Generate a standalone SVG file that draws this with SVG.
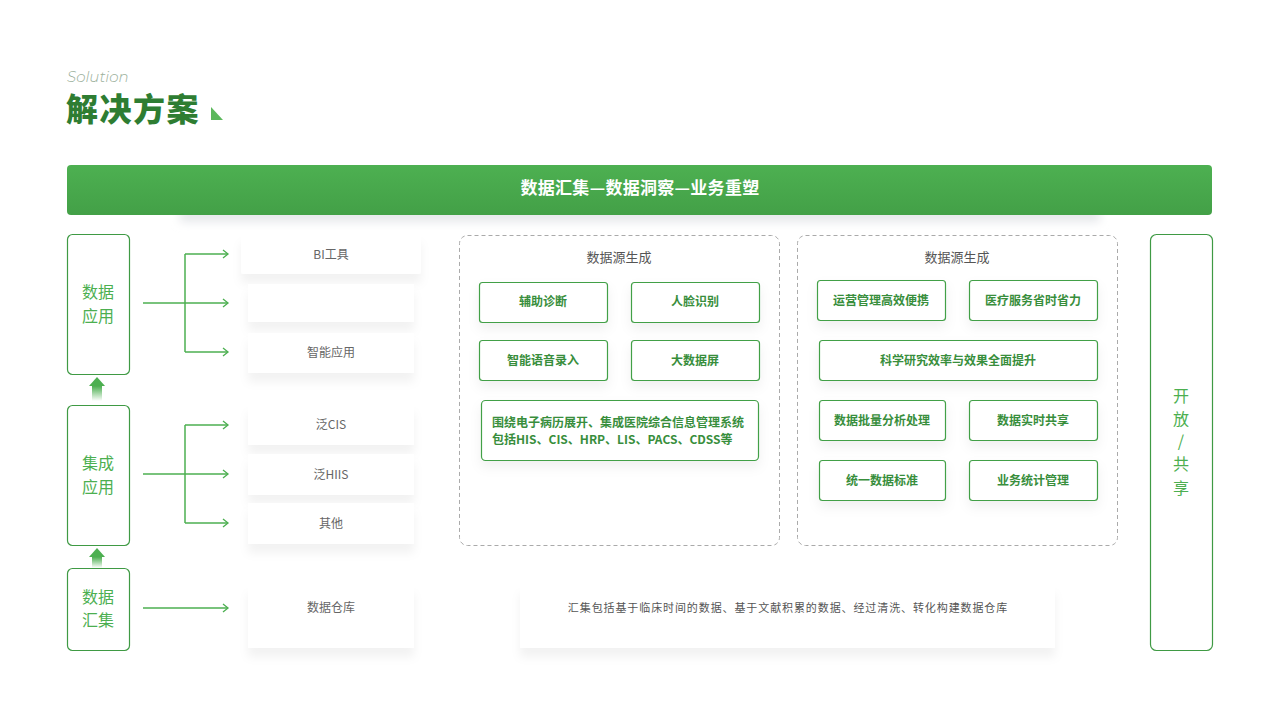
<svg xmlns="http://www.w3.org/2000/svg" width="1280" height="720" viewBox="0 0 1280 720">
<defs>
<style>
.cn{font-family:"Noto Sans CJK SC","Noto Sans",sans-serif}
.side{fill:#fff;stroke:#3f9a44;stroke-width:1.2}
.sidet{font-size:16px;fill:#4caf50;text-anchor:middle}
.card{fill:#fff}
.cardt{font-size:12px;fill:#666;text-anchor:middle}
.panel{fill:#fff;stroke:#aaa;stroke-width:1;stroke-dasharray:4 3}
.ptitle{font-size:13px;fill:#555;text-anchor:middle}
.ib{fill:#fff;stroke:#43a047;stroke-width:1.2}
.ibt{font-size:12px;font-weight:bold;fill:#388e3c;text-anchor:middle}
.conn{fill:none;stroke:#4caf50;stroke-width:1.5}
</style>
<linearGradient id="bar" x1="0" y1="0" x2="0" y2="1">
<stop offset="0" stop-color="#4db051"/>
<stop offset="1" stop-color="#43a047"/>
</linearGradient>
<linearGradient id="up" x1="0" y1="0" x2="0" y2="1">
<stop offset="0" stop-color="#4caf50"/>
<stop offset="1" stop-color="#4caf50" stop-opacity="0"/>
</linearGradient>
<filter id="sh" x="-20%" y="-20%" width="140%" height="180%">
<feDropShadow dx="0" dy="9" stdDeviation="5" flood-color="#000" flood-opacity="0.05"/>
</filter>
<filter id="ish" x="-20%" y="-20%" width="140%" height="180%">
<feDropShadow dx="0" dy="6" stdDeviation="6" flood-color="#000" flood-opacity="0.06"/>
</filter>
<filter id="bsh" x="-10%" y="-50%" width="120%" height="250%">
<feGaussianBlur stdDeviation="5"/>
</filter>
<marker id="arr" markerWidth="10" markerHeight="10" refX="8" refY="5" orient="auto" markerUnits="userSpaceOnUse">
<path d="M3,1 L8,5 L3,9" fill="none" stroke="#4caf50" stroke-width="1.3"/>
</marker>
</defs>
<rect width="1280" height="720" fill="#fff"/>

<g id="title">
<text x="67" y="82" font-family="Montserrat,'Noto Sans',sans-serif" font-style="italic" font-size="15" fill="#9bb09b" font-weight="300">Solution</text>
<text x="66" y="121" class="cn" font-size="32" font-weight="900" fill="#2e7d32" letter-spacing="1.5">解决方案</text>
<polygon points="211,107 211,120 223,120" fill="#5cb85c"/>
</g>

<g id="header">
<rect x="180" y="208" width="920" height="14" fill="#e6e8eb" filter="url(#bsh)"/>
<rect x="67" y="165" width="1145" height="50" rx="4" fill="url(#bar)"/>
<text x="640" y="194" class="cn" font-size="17" font-weight="bold" fill="#fff" text-anchor="middle" letter-spacing="0.3">数据汇集—数据洞察—业务重塑</text>
</g>

<g id="side-app">
<rect x="67.5" y="234.5" width="62" height="140" rx="5" class="side"/>
<text x="98" y="298" class="cn sidet">数据</text>
<text x="98" y="322" class="cn sidet">应用</text>
</g>
<g id="side-int">
<rect x="67.5" y="405.5" width="62" height="140" rx="5" class="side"/>
<text x="98" y="469" class="cn sidet">集成</text>
<text x="98" y="493" class="cn sidet">应用</text>
</g>
<g id="side-col">
<rect x="67.5" y="568.5" width="62" height="82" rx="5" class="side"/>
<text x="98" y="603" class="cn sidet">数据</text>
<text x="98" y="626" class="cn sidet">汇集</text>
</g>

<g id="up-arrows">
<polygon points="97,377 105,386 89,386" fill="#4caf50"/>
<rect x="92" y="386" width="10" height="15" fill="url(#up)"/>
<polygon points="97,548 105,557 89,557" fill="#4caf50"/>
<rect x="92" y="557" width="10" height="11" fill="url(#up)"/>
</g>

<g id="cards">
<g id="card-bi" filter="url(#sh)"><rect x="241" y="234" width="180" height="40" rx="3" class="card"/></g>
<text x="331" y="259" class="cn cardt">BI工具</text>
<g id="card-empty" filter="url(#sh)"><rect x="248" y="284" width="166" height="38" class="card"/></g>
<g id="card-smart" filter="url(#sh)"><rect x="248" y="333" width="166" height="40" class="card"/></g>
<text x="331" y="357" class="cn cardt">智能应用</text>
<g id="card-cis" filter="url(#sh)"><rect x="248" y="404" width="166" height="41" class="card"/></g>
<text x="331" y="429" class="cn cardt">泛CIS</text>
<g id="card-hiis" filter="url(#sh)"><rect x="248" y="454" width="166" height="41" class="card"/></g>
<text x="331" y="479" class="cn cardt">泛HIIS</text>
<g id="card-other" filter="url(#sh)"><rect x="248" y="503" width="166" height="41" class="card"/></g>
<text x="331" y="528" class="cn cardt">其他</text>
<g id="card-dw" filter="url(#sh)"><rect x="248" y="585" width="166" height="63" class="card"/></g>
<text x="331" y="612" class="cn cardt">数据仓库</text>
</g>

<g id="connectors">
<path d="M143,303 H185" class="conn"/>
<path d="M185,254 V352" class="conn"/>
<path d="M185,254 H228" class="conn" marker-end="url(#arr)"/>
<path d="M185,303 H228" class="conn" marker-end="url(#arr)"/>
<path d="M185,352 H228" class="conn" marker-end="url(#arr)"/>
<path d="M143,474 H185" class="conn"/>
<path d="M185,425 V523" class="conn"/>
<path d="M185,425 H228" class="conn" marker-end="url(#arr)"/>
<path d="M185,474 H228" class="conn" marker-end="url(#arr)"/>
<path d="M185,523 H228" class="conn" marker-end="url(#arr)"/>
<path d="M143,608 H228" class="conn" marker-end="url(#arr)"/>
</g>

<g id="panel1">
<rect x="459.5" y="235.5" width="320" height="310" rx="8" class="panel"/>
<text x="619" y="262" class="cn ptitle">数据源生成</text>
<rect x="479.5" y="282.5" width="128" height="40" rx="3" class="ib" filter="url(#ish)"/>
<text x="543" y="306" class="cn ibt">辅助诊断</text>
<rect x="631.5" y="282.5" width="128" height="40" rx="3" class="ib" filter="url(#ish)"/>
<text x="695" y="306" class="cn ibt">人脸识别</text>
<rect x="479.5" y="340.5" width="128" height="40" rx="3" class="ib" filter="url(#ish)"/>
<text x="543" y="365" class="cn ibt">智能语音录入</text>
<rect x="631.5" y="340.5" width="128" height="40" rx="3" class="ib" filter="url(#ish)"/>
<text x="695" y="365" class="cn ibt">大数据屏</text>
<rect x="481.5" y="400.5" width="277" height="60" rx="4" class="ib" filter="url(#ish)"/>
<text x="492" y="427" class="cn" font-size="12" font-weight="bold" fill="#388e3c">围绕电子病历展开、集成医院综合信息管理系统</text>
<text x="492" y="444" class="cn" font-size="12" font-weight="bold" fill="#388e3c">包括HIS、CIS、HRP、LIS、PACS、CDSS等</text>
</g>

<g id="panel2">
<rect x="797.5" y="235.5" width="320" height="310" rx="8" class="panel"/>
<text x="957" y="262" class="cn ptitle">数据源生成</text>
<rect x="817.5" y="280.5" width="128" height="40" rx="3" class="ib" filter="url(#ish)"/>
<text x="881" y="305" class="cn ibt">运营管理高效便携</text>
<rect x="969.5" y="280.5" width="128" height="40" rx="3" class="ib" filter="url(#ish)"/>
<text x="1033" y="305" class="cn ibt">医疗服务省时省力</text>
<rect x="819.5" y="340.5" width="278" height="40" rx="3" class="ib" filter="url(#ish)"/>
<text x="958" y="365" class="cn ibt">科学研究效率与效果全面提升</text>
<rect x="819.5" y="400.5" width="126" height="40" rx="3" class="ib" filter="url(#ish)"/>
<text x="882" y="425" class="cn ibt">数据批量分析处理</text>
<rect x="969.5" y="400.5" width="128" height="40" rx="3" class="ib" filter="url(#ish)"/>
<text x="1033" y="425" class="cn ibt">数据实时共享</text>
<rect x="819.5" y="460.5" width="126" height="40" rx="3" class="ib" filter="url(#ish)"/>
<text x="882" y="485" class="cn ibt">统一数据标准</text>
<rect x="969.5" y="460.5" width="128" height="40" rx="3" class="ib" filter="url(#ish)"/>
<text x="1033" y="485" class="cn ibt">业务统计管理</text>
</g>

<g id="desc">
<rect x="520" y="585" width="535" height="63" fill="#fff" filter="url(#sh)"/>
<text x="788" y="612" class="cn" font-size="11" fill="#555" text-anchor="middle" letter-spacing="0.9">汇集包括基于临床时间的数据、基于文献积累的数据、经过清洗、转化构建数据仓库</text>
</g>

<g id="side-open">
<rect x="1150.5" y="234.5" width="62" height="416" rx="6" class="side"/>
<text x="1181" y="402" class="cn sidet">开</text>
<text x="1181" y="425" class="cn sidet">放</text>
<text x="1181" y="447" class="cn sidet">/</text>
<text x="1181" y="470" class="cn sidet">共</text>
<text x="1181" y="494" class="cn sidet">享</text>
</g>
</svg>
